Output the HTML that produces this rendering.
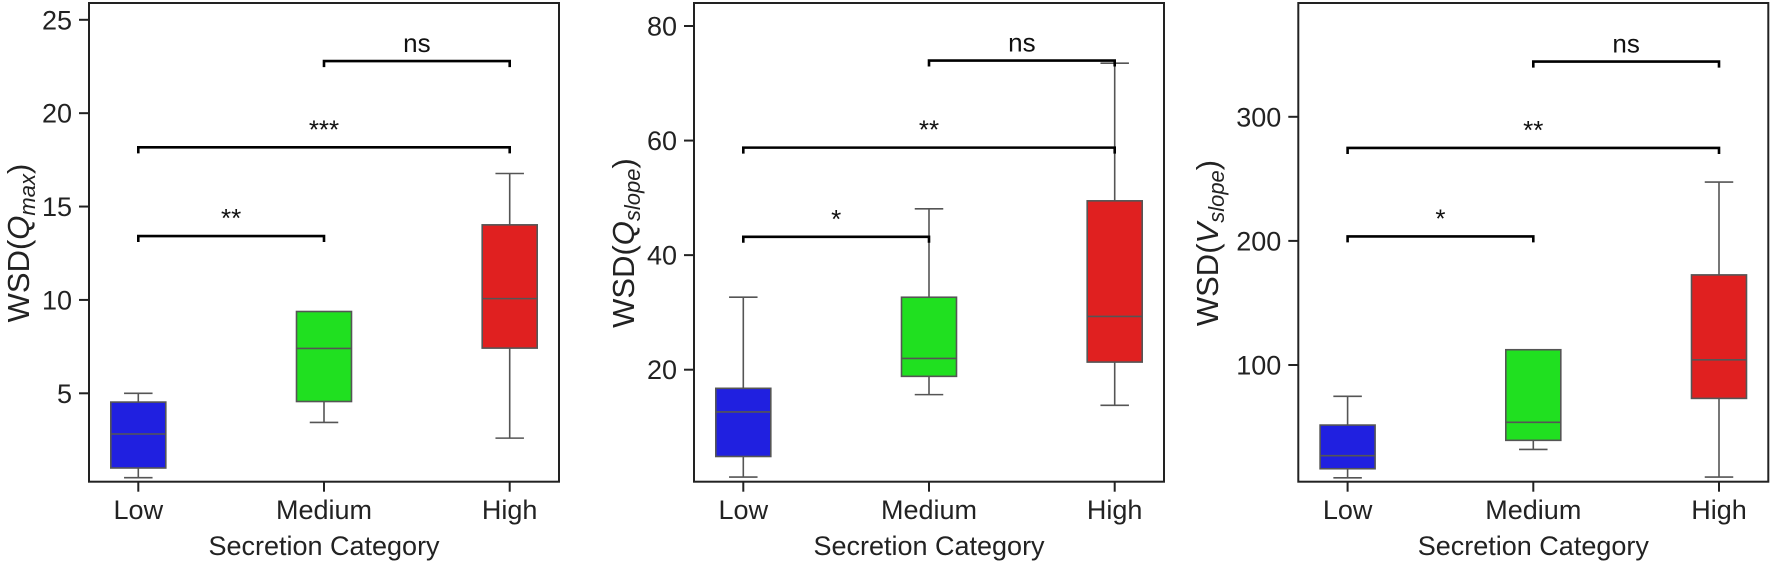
<!DOCTYPE html>
<html><head><meta charset="utf-8"><style>
html,body{margin:0;padding:0;background:#fff;}
svg{display:block;font-family:"Liberation Sans",sans-serif;}
</style></head><body>
<svg id="fig" width="1772" height="564" viewBox="0 0 1772 564" xmlns="http://www.w3.org/2000/svg"></svg>
<script>
const categories = ["Low","Medium","High"];
const colors = ["#2020e0","#20e020","#e02020"];
// Panel 1: WSD(Q_max)
const p1Low = [0.48, 1.0, 2.82, 4.53, 5.0];
const p1Med = [3.44, 4.56, 7.40, 9.38, 9.38];
const p1High = [2.6, 7.42, 10.07, 14.02, 16.77];
const p1Ticks = [5, 10, 15, 20, 25];
const p1Brackets = [[0,1,13.42,"**"],[0,2,18.17,"***"],[1,2,22.79,"ns"]];
// Panel 2: WSD(Q_slope)
const p2Low = [1.25, 4.85, 12.63, 16.75, 32.65];
const p2Med = [15.65, 18.84, 21.97, 32.65, 48.09];
const p2High = [13.79, 21.33, 29.29, 49.48, 73.5];
const p2Ticks = [20, 40, 60, 80];
const p2Brackets = [[0,1,43.2,"*"],[0,2,58.77,"**"],[1,2,73.97,"ns"]];
// Panel 3: WSD(V_slope)
const p3Low = [9.1, 16.4, 26.9, 51.6, 74.8];
const p3Med = [32.0, 39.3, 53.8, 112.3, 112.3];
const p3High = [9.7, 73.1, 104.2, 172.6, 247.4];
const p3Ticks = [100, 200, 300];
const p3Brackets = [[0,1,203.6,"*"],[0,2,274.9,"**"],[1,2,344.5,"ns"]];

const NS = "http://www.w3.org/2000/svg";
const svg = document.getElementById("fig");
function mk(tag, attrs, parent){
  const e = document.createElementNS(NS, tag);
  for (const k in attrs) e.setAttribute(k, attrs[k]);
  (parent||svg).appendChild(e);
  return e;
}
const TOP = 3, BOT = 481.7;
const panels = [
  {left:89, boxes:[p1Low,p1Med,p1High], ticks:p1Ticks, brackets:p1Brackets, refV:[5,25], refY:[393.3,19.8], sym:"Q", sub:"max", labX:18},
  {left:694, boxes:[p2Low,p2Med,p2High], ticks:p2Ticks, brackets:p2Brackets, refV:[20,80], refY:[369.7,26], sym:"Q", sub:"slope", labX:623},
  {left:1298.3, boxes:[p3Low,p3Med,p3High], ticks:p3Ticks, brackets:p3Brackets, refV:[100,300], refY:[365,116.8], sym:"V", sub:"slope", labX:1207}
];
panels.forEach((p, pi) => {
  const g = mk("g", {});
  
  
  const W = 470;
  const xs = i => p.left + 49.3 + i*185.7;
  const k = (p.refY[1]-p.refY[0])/(p.refV[1]-p.refV[0]);
  const ys = v => p.refY[0] + (v - p.refV[0])*k;
  p.boxes.forEach((b, i) => {
    const cx = xs(i), bw = 55, cw = 28.5;
    const bg = mk("g", {}, g);
    
    
    if (b[0] < b[1]) {
      mk("line",{x1:cx,x2:cx,y1:ys(b[0]),y2:ys(b[1]),stroke:"#555","stroke-width":1.6},bg);
      mk("line",{x1:cx-cw/2,x2:cx+cw/2,y1:ys(b[0]),y2:ys(b[0]),stroke:"#555","stroke-width":1.6},bg);
    }
    if (b[4] > b[3]) {
      mk("line",{x1:cx,x2:cx,y1:ys(b[4]),y2:ys(b[3]),stroke:"#555","stroke-width":1.6},bg);
      mk("line",{x1:cx-cw/2,x2:cx+cw/2,y1:ys(b[4]),y2:ys(b[4]),stroke:"#555","stroke-width":1.6},bg);
    }
    mk("rect",{x:cx-bw/2,y:ys(b[3]),width:bw,height:ys(b[1])-ys(b[3]),fill:colors[i],stroke:"#555","stroke-width":1.6},bg);
    mk("line",{x1:cx-bw/2,x2:cx+bw/2,y1:ys(b[2]),y2:ys(b[2]),stroke:"#555","stroke-width":1.6},bg);
  });
  p.brackets.forEach(br => {
    const x1 = xs(br[0]), x2 = xs(br[1]), y = ys(br[2]);
    const bg = mk("g", {}, g);
    
    
    mk("polyline",{points:`${x1},${y+6} ${x1},${y} ${x2},${y} ${x2},${y+6}`,fill:"none",stroke:"#000","stroke-width":2.6},bg);
    const t = mk("text",{x:(x1+x2)/2,y:y-9,"text-anchor":"middle","font-size":26,fill:"#111"},bg);
    t.textContent = br[3];
    
    
  });
  const fr = mk("rect",{x:p.left,y:TOP,width:W,height:BOT-TOP,fill:"none",stroke:"#222","stroke-width":2},g);
  
  
  p.ticks.forEach(v => {
    const y = ys(v);
    mk("line",{x1:p.left-10,x2:p.left,y1:y,y2:y,stroke:"#222","stroke-width":2},g);
    const t = mk("text",{x:p.left-17,y:y+9.5,"text-anchor":"end","font-size":27,fill:"#222"},g);
    t.textContent = v;
    
    
  });
  categories.forEach((c, i) => {
    const x = xs(i);
    mk("line",{x1:x,x2:x,y1:BOT,y2:BOT+10,stroke:"#222","stroke-width":2},g);
    const t = mk("text",{x:x,y:519,"text-anchor":"middle","font-size":27,fill:"#222"},g);
    t.textContent = c;
    
    
  });
  const xt = mk("text",{x:xs(1),y:555,"text-anchor":"middle","font-size":27,fill:"#222"},g);
  xt.textContent = "Secretion Category";
  
  
  const yt = mk("text",{x:0,y:0,"text-anchor":"middle","font-size":31,fill:"#222",transform:`translate(${p.labX+11},243) rotate(-90)`},g);
  
  
  const a = mk("tspan",{},yt); a.textContent = "WSD(";
  const b2 = mk("tspan",{"font-style":"italic"},yt); b2.textContent = p.sym;
  const c2 = mk("tspan",{"font-style":"italic","font-size":22,dy:6},yt); c2.textContent = p.sub;
  const d2 = mk("tspan",{dy:-6},yt); d2.textContent = ")";
});
</script>
</body></html>
